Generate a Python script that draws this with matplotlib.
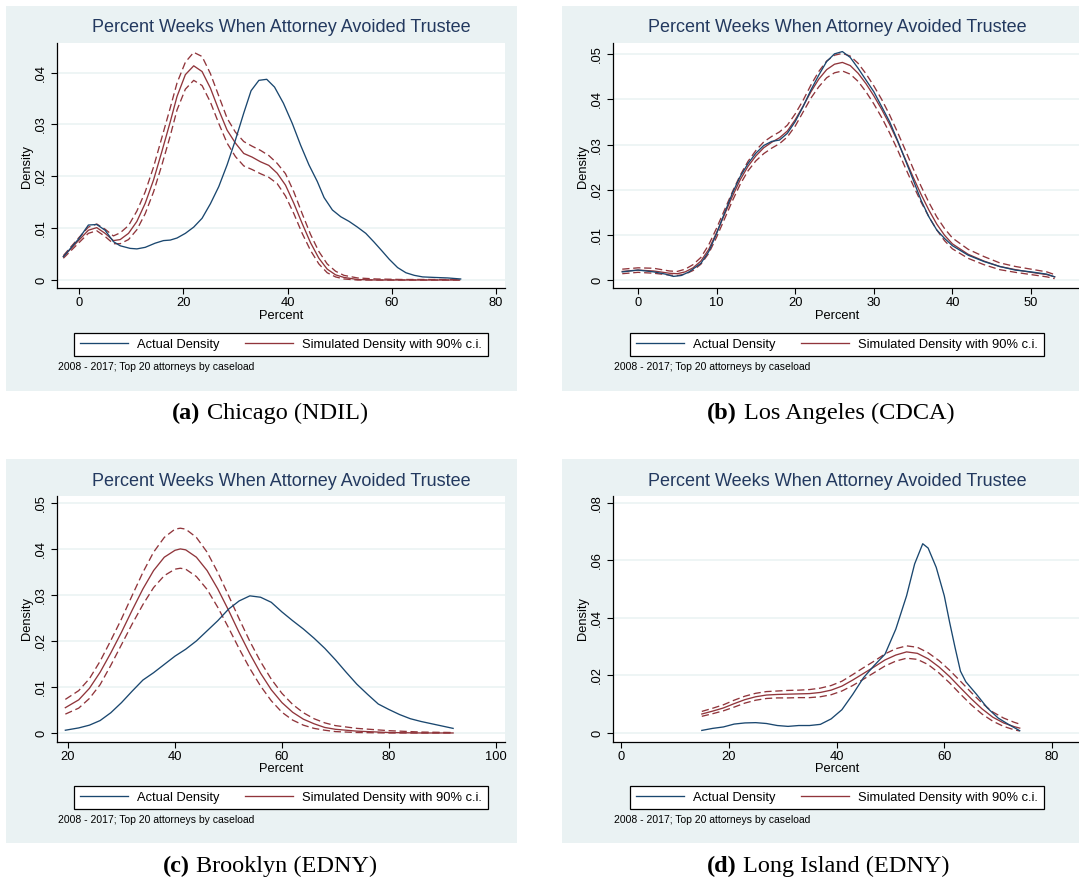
import matplotlib
matplotlib.use('Agg')
import matplotlib.pyplot as plt
from matplotlib.patches import Rectangle
from matplotlib.lines import Line2D
from matplotlib.offsetbox import TextArea, HPacker, AnnotationBbox

W, H = 1079, 882
NAVY = '#1a476f'
MAROON = '#90353b'
SHADE = '#eaf2f3'
TITLE_COLOR = '#23395f'
SANS = 'Liberation Sans'
SERIF = 'Liberation Serif'

TITLE = 'Percent Weeks When Attorney Avoided Trustee'
NOTE = '2008 - 2017; Top 20 attorneys by caseload'
LEGEND_LABELS = ['Actual Density', 'Simulated Density with 90% c.i.']

# (a) Chicago
act_x_a = [-3, 0, 1.8, 3.4, 5, 6.6, 7.9, 9.8, 11.1, 12.7, 14.6, 16.2, 17.5, 18.8, 20.4,
           22, 23.6, 25.2, 26.8, 28.4, 30, 31.6, 33, 34.5, 36, 37.5, 39.2, 40.9, 42.5, 44.1,
           45.7, 47, 48.6, 50.2, 51.8, 53.4, 55, 56.6, 58.2, 59.5, 61.1, 62.7, 64.3, 65.9,
           68.1, 70.7, 73.2]
act_y_a = [.0045, .008, .0106, .0107, .0096, .0074, .0066, .0061, .006, .0063, .0071, .0076,
           .0077, .0081, .009, .0102, .0119, .0147, .018, .0222, .027, .0322, .0365, .0385,
           .0387, .0372, .0341, .0302, .026, .0222, .019, .0159, .0135, .0122, .0113, .0102,
           .009, .0073, .0055, .004, .0024, .0014, .0009, .0006, .0005, .0004, .0002]
sim_x_a = [-3, 0, 1.8, 3.4, 5, 6.6, 7.9, 9.5, 11.1, 12.7, 14.3, 15.9, 17.5, 18.8, 20.4,
           22, 23.6, 25.2, 26.8, 28.4, 30, 31.6, 33.2, 34.8, 36.4, 38, 39.6, 41.2, 42.8, 44.4,
           46, 47.6, 49.2, 50.8, 53.4, 57, 62, 68, 73]
sim_y_a = [.0045, .0077, .0096, .0101, .009, .0076, .0078, .009, .0113, .0148, .0193, .0248,
           .0305, .0354, .0396, .0413, .0402, .037, .0328, .0289, .0264, .0244, .0237, .0228,
           .0221, .0206, .0183, .0148, .0109, .0072, .0042, .0021, .001, .0005, .0001, 0, 0, 0, 0]
hi_a = [.0047, .0082, .0102, .0108, .0098, .0085, .0091, .0105, .0133, .017, .0218, .0275,
        .0332, .038, .042, .0439, .0431, .0398, .0355, .0312, .0285, .0267, .0258, .025,
        .024, .0225, .0205, .017, .0128, .0088, .0055, .0031, .0017, .0009, .0004, .0002,
        .0001, .0001, .0001]
lo_a = [.0042, .0072, .009, .0095, .0084, .007, .007, .0078, .0097, .0128, .017, .0222,
        .0278, .0328, .0368, .0385, .0375, .0343, .0302, .0264, .0238, .022, .0213, .0205,
        .0198, .0186, .0162, .0128, .009, .0057, .0031, .0014, .0006, .0002, 0, 0, 0, 0, 0]

# (b) Los Angeles
act_x_b = [-2, 0, 2, 3.5, 4.5, 5.5, 6.5, 8, 9, 10, 11, 12, 13, 14, 15, 16, 17, 18, 19, 20,
           21, 22, 23, 24, 25, 26, 27, 28, 29, 30, 31, 32, 33, 34, 35, 36, 37, 38, 39, 40,
           42, 44, 46, 48, 50, 52, 53]
act_y_b = [.0018, .0022, .0018, .0013, .0008, .001, .0018, .0037, .0063, .0103, .0148, .0192,
           .0229, .0258, .0281, .0298, .0307, .031, .0325, .0351, .0384, .0421, .0454, .0484,
           .0501, .0506, .0493, .0469, .0443, .0417, .0384, .0351, .031, .0266, .0222, .0177,
           .014, .0111, .0092, .0076, .0055, .0041, .003, .0022, .0018, .0013, .0007]
sim_x_b = [-2, 0, 2, 4, 5, 6, 7, 8, 9, 10, 11, 12, 13, 14, 15, 16, 17, 18, 19, 20,
           21, 22, 23, 24, 25, 26, 27, 28, 29, 30, 31, 32, 33, 34, 35, 36, 37, 38, 39, 40,
           42, 44, 46, 48, 50, 52, 53]
sim_y_b = [.0019, .0022, .002, .0015, .0014, .0018, .0027, .0042, .0068, .0105, .0145, .0185,
           .0222, .0252, .0275, .0293, .0305, .0315, .033, .0355, .0385, .0417, .0445, .0466,
           .0478, .0482, .0475, .0458, .0435, .0408, .0378, .0345, .0308, .0268, .0228, .019,
           .0155, .0124, .0099, .008, .0057, .0042, .003, .0023, .0017, .0012, .0007]
hi_b = [.0024, .0027, .0026, .002, .0019, .0024, .0034, .005, .0078, .0115, .0155, .0195,
        .0232, .0263, .0287, .0306, .0318, .0328, .0343, .0368, .0398, .0432, .0462, .0485,
        .0498, .0502, .0496, .048, .0457, .043, .04, .0366, .0328, .0288, .0247, .0208,
        .0172, .014, .0114, .0093, .0068, .0052, .0038, .003, .0024, .0018, .0012]
lo_b = [.0014, .0017, .0015, .0011, .001, .0013, .0021, .0035, .0059, .0095, .0135, .0175,
        .0212, .0242, .0264, .028, .0292, .0302, .0317, .0341, .0372, .0403, .0428, .0448,
        .0459, .0463, .0456, .044, .0417, .039, .036, .0326, .0289, .0249, .021, .0173,
        .014, .0111, .0087, .0069, .0048, .0034, .0023, .0017, .0012, .0007, .0003]

# (c) Brooklyn
act_x_c = [19.5, 22, 24, 26, 28, 30, 32, 34, 36, 38, 40, 42, 44, 46, 48, 50, 52, 54, 56,
           58, 60, 62, 64, 66, 68, 70, 72, 74, 76, 78, 80, 82, 84, 86, 88, 90, 92]
act_y_c = [.0006, .0011, .0017, .0027, .0044, .0066, .0091, .0115, .0131, .0149, .0167,
           .0182, .02, .0222, .0244, .0269, .0287, .0298, .0295, .0284, .0263, .0244, .0226,
           .0206, .0184, .0159, .0132, .0106, .0084, .0063, .0051, .004, .0031, .0025, .002,
           .0015, .001]
sim_x_c = [19.5, 22, 24, 26, 28, 30, 32, 34, 36, 38, 40, 41, 42, 44, 46, 48, 50, 52, 54,
           56, 58, 60, 62, 64, 66, 68, 70, 74, 80, 86, 92]
sim_y_c = [.0055, .0072, .0097, .0132, .0174, .0219, .0267, .0313, .0353, .0382, .0397, .04,
           .0398, .0382, .0353, .0313, .0267, .0218, .0172, .013, .0094, .0066, .0045, .003,
           .002, .0012, .0008, .0004, .0001, 0, 0]
hi_c = [.0073, .0092, .0118, .0156, .0201, .0248, .0299, .0349, .0393, .0425, .0443, .0445,
        .0443, .0425, .0393, .0349, .0299, .0248, .0199, .0155, .0117, .0086, .0062, .0044,
        .0031, .0022, .0016, .001, .0005, .0002, .0001]
lo_c = [.0041, .0054, .0075, .0105, .0147, .0192, .0237, .0279, .0316, .0342, .0356, .0358,
        .0356, .034, .0312, .0273, .0229, .0183, .014, .0102, .007, .0045, .0028, .0017,
        .001, .0006, .0003, .0001, 0, 0, 0]

# (d) Long Island
act_x_d = [15, 17, 19, 21, 23, 25, 27, 29, 31, 33, 35, 37, 39, 41, 43, 45, 47, 49, 51, 53,
           54.5, 56, 57, 58.5, 60, 61, 62, 63, 64, 66, 68, 70, 72, 74]
act_y_d = [.0009, .0016, .0021, .0031, .0035, .0036, .0033, .0026, .0023, .0026, .0026, .003,
           .0049, .0081, .0134, .0192, .0235, .0274, .0361, .0477, .0588, .0658, .0643, .0576,
           .0477, .0384, .0297, .0215, .0178, .0134, .0087, .0052, .0029, .0008]
sim_x_d = [15, 17, 19, 21, 23, 25, 27, 29, 31, 33, 35, 37, 39, 41, 43, 45, 47, 49, 51, 53,
           55, 57, 59, 61, 63, 65, 67, 69, 71, 73, 74]
sim_y_d = [.0066, .0076, .0087, .0102, .0116, .0126, .0132, .0134, .0135, .0136, .0137, .0141,
           .0149, .0163, .0184, .0207, .023, .0254, .0271, .0282, .0277, .0258, .023, .0196,
           .0157, .0119, .0084, .0055, .0035, .0022, .0017]
hi_d = [.0075, .0086, .0098, .0114, .0128, .0138, .0144, .0146, .0148, .0149, .0151, .0156,
        .0165, .018, .0203, .0227, .025, .0275, .0293, .0303, .0298, .0279, .0252, .0218,
        .018, .0141, .0104, .0073, .0052, .0037, .0031]
lo_d = [.0058, .0067, .0077, .009, .0104, .0114, .012, .0122, .0122, .0123, .0123, .0126,
        .0133, .0146, .0165, .0187, .021, .0233, .025, .026, .0256, .0238, .0209, .0174,
        .0135, .0098, .0066, .0041, .0023, .0011, .0007]

xticks_a, xticks_b = [0, 20, 40, 60, 80], [0, 10, 20, 30, 40, 50]
xticks_c, xticks_d = [20, 40, 60, 80, 100], [0, 20, 40, 60, 80]
yticks_a = [0, .01, .02, .03, .04]
ylabels_a = ['0', '.01', '.02', '.03', '.04']
yticks_bc = [0, .01, .02, .03, .04, .05]
ylabels_bc = ['0', '.01', '.02', '.03', '.04', '.05']
yticks_d = [0, .02, .04, .06, .08]
ylabels_d = ['0', '.02', '.04', '.06', '.08']


def fx(x):
    return x / W


def fy(y):
    return 1 - y / H


def panel(fig, frame, box, cx, capx, xlim, ylim, xticks, yticks, ylabels,
          act, sim, hi, lo, letter, place):
    x0, y0, x1, y1 = frame
    fig.add_artist(Rectangle((fx(x0), fy(y1)), (x1 - x0) / W, (y1 - y0) / H,
                             transform=fig.transFigure, facecolor=SHADE,
                             edgecolor='none', zorder=-5))
    bx0, by0, bx1, by1 = box
    ax = fig.add_axes([fx(bx0), fy(by1), (bx1 - bx0) / W, (by1 - by0) / H])
    ax.set_facecolor('white')
    for s in ('top', 'right'):
        ax.spines[s].set_visible(False)
    for s in ('left', 'bottom'):
        ax.spines[s].set_linewidth(0.9)
    ax.set_xlim(*xlim)
    ax.set_ylim(*ylim)
    ax.set_xticks(xticks)
    ax.set_xticklabels([str(t) for t in xticks], fontsize=9.3, family=SANS)
    ax.set_yticks(yticks)
    ax.set_yticklabels(ylabels, fontsize=9.3, family=SANS, rotation=90, va='center')
    ax.tick_params(length=4, width=0.8, direction='out')
    ax.tick_params(axis='x', pad=2.5)
    ax.tick_params(axis='y', pad=3)
    ax.grid(axis='y', color=SHADE, lw=1.1)
    ax.set_axisbelow(True)

    ax.plot(sim[0], hi, color=MAROON, lw=0.95, dashes=(5.5, 2.8))
    ax.plot(sim[0], lo, color=MAROON, lw=0.95, dashes=(5.5, 2.8))
    ax.plot(sim[0], sim[1], color=MAROON, lw=0.95)
    ax.plot(act[0], act[1], color=NAVY, lw=0.95)

    fig.text(fx(cx), fy(y0 + 22), TITLE, ha='center', va='center',
             fontsize=13, color=TITLE_COLOR, family=SANS)
    fig.text(fx(cx), fy(y0 + 310), 'Percent', ha='center', va='center',
             fontsize=9.3, family=SANS)
    fig.text(fx(bx0 - 30), fy(y0 + 160), 'Density', ha='center', va='center',
             rotation=90, fontsize=9.3, family=SANS)
    fig.text(fx(bx0 + 1), fy(y0 + 361), NOTE, ha='left', va='center',
             fontsize=7.5, family=SANS)

    handles = [Line2D([], [], color=NAVY, lw=0.95), Line2D([], [], color=MAROON, lw=0.95)]
    leg = fig.legend(handles, LEGEND_LABELS, ncol=2, loc='center',
                     bbox_to_anchor=(fx(cx), fy(y0 + 338.5)),
                     prop={'family': SANS, 'size': 9.3}, frameon=True,
                     fancybox=False, edgecolor='black', framealpha=1,
                     handlelength=3.7, handletextpad=0.7, columnspacing=2.0,
                     borderpad=0.45)
    leg.get_frame().set_linewidth(0.9)

    cap = HPacker(children=[
        TextArea(f'({letter})', textprops=dict(family=SERIF, size=17.5, weight='bold')),
        TextArea(place, textprops=dict(family=SERIF, size=17.5)),
    ], sep=5, pad=0, align='baseline')
    fig.add_artist(AnnotationBbox(cap, (fx(capx), fy(y0 + 407)), xycoords='figure fraction',
                                  frameon=False, box_alignment=(0.5, 0.5), pad=0))
    return ax


fig = plt.figure(figsize=(W / 100, H / 100), dpi=100)
fig.patch.set_facecolor('white')

panel(fig, (6, 6, 517, 391), (57, 43, 505, 288), 281, 270,
      (-4.22, 81.7), (-0.00154, 0.0457), xticks_a, yticks_a, ylabels_a,
      (act_x_a, act_y_a), (sim_x_a, sim_y_a), hi_a, lo_a, 'a', 'Chicago (NDIL)')
panel(fig, (562, 6, 1079, 391), (613, 43, 1079, 288), 837, 831,
      (-3.18, 56.1), (-0.00177, 0.0525), xticks_b, yticks_bc, ylabels_bc,
      (act_x_b, act_y_b), (sim_x_b, sim_y_b), hi_b, lo_b, 'b', 'Los Angeles (CDCA)')
panel(fig, (6, 459, 517, 843), (57, 496, 505, 742), 281, 270,
      (17.94, 101.7), (-0.00196, 0.0515), xticks_c, yticks_bc, ylabels_bc,
      (act_x_c, act_y_c), (sim_x_c, sim_y_c), hi_c, lo_c, 'c', 'Brooklyn (EDNY)')
panel(fig, (562, 459, 1079, 843), (613, 496, 1079, 742), 837, 828,
      (-1.48, 85.0), (-0.00313, 0.0824), xticks_d, yticks_d, ylabels_d,
      (act_x_d, act_y_d), (sim_x_d, sim_y_d), hi_d, lo_d, 'd', 'Long Island (EDNY)')

fig.savefig('out.png', dpi=100)
